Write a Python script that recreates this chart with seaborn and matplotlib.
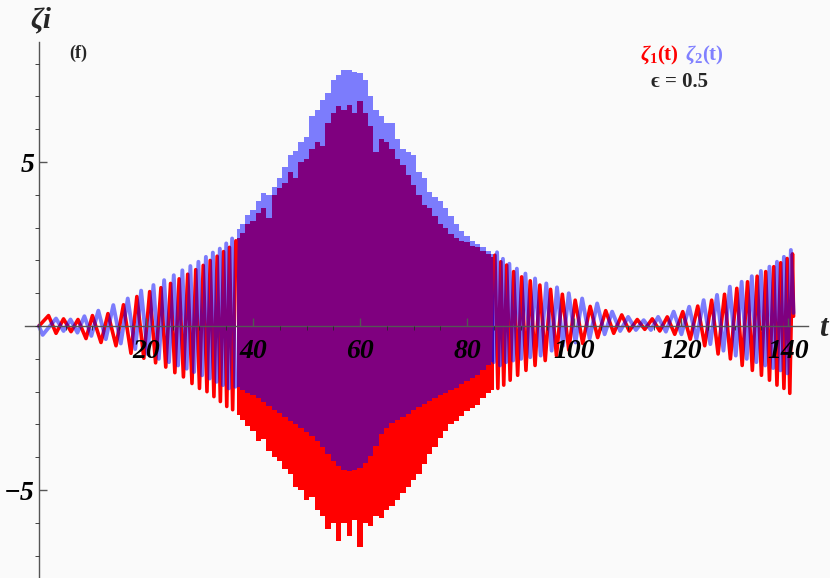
import numpy as np
import matplotlib
matplotlib.use('Agg')
import matplotlib.pyplot as plt
import seaborn as sns

# zeta_1 (red), sparse part on the left: alternating extrema
red_left_t = [0.0, 1.8, 3.2, 4.6, 6.0, 7.3, 8.8, 10.0, 11.6, 12.9,
              14.4, 15.8, 17.2, 18.3, 19.6, 20.7, 21.8, 22.8, 23.7, 24.6,
              25.4, 26.2, 27.0, 27.8, 28.6, 29.3, 30.0, 30.7, 31.4, 32.0,
              32.7, 33.3, 33.9, 34.5, 35.1, 35.6, 36.2, 36.8]
red_left_v = [0.0, 0.32, -0.22, 0.22, -0.17, 0.2, -0.38, 0.32, -0.5, 0.38,
              -0.6, 0.65, -0.83, 0.9, -0.98, 1.05, -1.12, 1.17, -1.25, 1.3,
              -1.42, 1.44, -1.55, 1.58, -1.75, 1.72, -1.9, 1.85, -2.0, 2.0,
              -2.15, 2.13, -2.3, 2.27, -2.45, 2.4, -2.55, 2.6]

# zeta_2 (blue), sparse part on the left
blue_left_t = [0.0, 0.7, 3.2, 4.6, 5.9, 7.2, 8.5, 9.8, 11.1, 12.5,
               13.9, 15.3, 16.6, 18.0, 19.1, 20.3, 21.4, 22.4, 23.4, 24.3,
               25.2, 26.0, 26.8, 27.6, 28.3, 29.0, 29.8, 30.5, 31.2, 31.9,
               32.5, 33.2, 33.8, 34.4, 35.0, 35.5, 36.1, 36.7]
blue_left_v = [0.0, -0.27, 0.23, -0.15, 0.2, -0.2, 0.3, -0.3, 0.47, -0.4,
               0.64, -0.53, 0.84, -0.7, 1.08, -0.85, 1.25, -1.0, 1.4, -1.1,
               1.55, -1.2, 1.7, -1.3, 1.83, -1.4, 1.96, -1.5, 2.11, -1.6,
               2.24, -1.7, 2.36, -1.8, 2.52, -1.9, 2.67, -1.85]

# dense middle part: upper / lower envelopes, one value per time unit (t = 37 ... 85)
dense_t = np.arange(37, 86)
red_hi = [2.7, 2.85, 3.1, 3.2, 3.45, 3.6, 3.3, 4.0, 4.2, 4.35,
          4.7, 4.5, 5.0, 5.1, 5.4, 5.6, 5.5, 6.2, 6.5, 6.7,
          6.6, 6.75, 6.5, 6.85, 6.5, 6.1, 5.3, 5.7, 5.6, 5.4,
          5.1, 4.9, 4.6, 4.3, 4.0, 3.7, 3.6, 3.35, 3.1, 3.0,
          2.8, 2.7, 2.6, 2.55, 2.45, 2.4, 2.3, 2.2, 2.1]
red_lo = [-2.7, -2.85, -3.05, -3.2, -3.5, -3.45, -3.8, -4.0, -4.1, -4.35,
          -4.5, -4.9, -5.0, -5.3, -5.2, -5.6, -5.8, -6.2, -6.0, -6.55,
          -6.0, -6.4, -5.9, -6.75, -6.0, -6.1, -5.8, -5.85, -5.6, -5.5,
          -5.3, -5.1, -4.9, -4.7, -4.5, -4.2, -3.9, -3.7, -3.4, -3.2,
          -3.0, -2.9, -2.75, -2.6, -2.5, -2.4, -2.2, -2.05, -1.95]
blue_hi = [2.95, 3.1, 3.4, 3.55, 3.8, 4.05, 4.0, 4.25, 4.5, 4.85,
           5.2, 5.35, 5.6, 5.75, 6.4, 6.6, 6.9, 7.1, 7.5, 7.65,
           7.8, 7.8, 7.75, 7.7, 7.5, 7.0, 6.6, 6.4, 6.2, 6.2,
           5.7, 5.4, 5.3, 5.2, 4.7, 4.5, 4.1, 3.95, 3.8, 3.6,
           3.35, 3.1, 2.9, 2.75, 2.6, 2.5, 2.4, 2.3, 2.2]
blue_lo = [-1.85, -1.95, -2.05, -2.1, -2.2, -2.3, -2.45, -2.55, -2.65, -2.78,
           -2.88, -3.0, -3.1, -3.22, -3.35, -3.5, -3.7, -3.9, -4.1, -4.27,
           -4.38, -4.42, -4.4, -4.33, -4.18, -3.95, -3.65, -3.3, -3.1, -2.95,
           -2.85, -2.77, -2.67, -2.57, -2.47, -2.38, -2.28, -2.18, -2.1, -2.03,
           -1.96, -1.88, -1.78, -1.68, -1.58, -1.48, -1.35, -1.2, -1.1]

# sparse part on the right
red_right_t = [85.2, 85.75, 86.3, 86.85, 87.4, 88.05, 88.7, 89.45, 90.2, 91.0,
               91.8, 92.7, 93.6, 94.6, 95.6, 96.7, 97.8, 99.0, 100.2, 101.6,
               103.0, 104.4, 105.9, 107.4, 108.9, 110.3, 111.8, 113.2, 114.6, 116.0,
               117.4, 118.8, 120.3, 121.7, 123.1, 124.4, 125.7, 126.9, 128.1, 129.2,
               130.4, 131.4, 132.4, 133.3, 134.2, 135.0, 135.8, 136.5, 137.3, 137.9,
               138.6, 139.2, 139.8, 140.3, 140.8, 141.0]
red_right_v = [2.16, -1.9, 1.96, -1.8, 1.86, -1.65, 1.66, -1.5, 1.5, -1.35,
               1.38, -1.2, 1.25, -1.05, 1.12, -0.9, 0.97, -0.73, 0.79, -0.53,
               0.6, -0.35, 0.47, -0.22, 0.34, -0.15, 0.2, -0.1, 0.22, -0.15,
               0.28, -0.25, 0.44, -0.4, 0.61, -0.6, 0.79, -0.85, 0.97, -1.0,
               1.15, -1.2, 1.35, -1.35, 1.52, -1.5, 1.66, -1.65, 1.81, -1.8,
               1.93, -1.9, 2.06, -2.05, 2.2, 0.3]
blue_right_t = [85.0, 85.6, 86.15, 86.7, 87.3, 87.9, 88.6, 89.3, 90.1, 90.9,
                91.8, 92.7, 93.75, 94.8, 95.8, 96.8, 97.9, 99.0, 100.25, 101.5,
                102.9, 104.3, 105.7, 107.1, 108.6, 110.1, 111.55, 113.0, 114.35, 115.7,
                117.15, 118.6, 120.05, 121.5, 122.85, 124.2, 125.45, 126.7, 127.9, 129.1,
                130.2, 131.3, 132.25, 133.2, 134.05, 134.9, 135.7, 136.5, 137.2, 137.9,
                138.55, 139.2, 139.85, 140.5, 141.0]
blue_right_v = [-1.1, 2.25, -1.2, 2.05, -1.1, 1.9, -1.05, 1.75, -1.0, 1.6,
                -0.95, 1.45, -0.9, 1.3, -0.75, 1.18, -0.6, 1.0, -0.5, 0.84,
                -0.38, 0.69, -0.25, 0.44, -0.15, 0.28, -0.12, 0.18, -0.12, 0.28,
                -0.17, 0.44, -0.25, 0.59, -0.4, 0.79, -0.55, 0.95, -0.75, 1.2,
                -0.9, 1.35, -1.0, 1.52, -1.1, 1.68, -1.2, 1.81, -1.28, 1.96,
                -1.35, 2.11, -1.44, 2.32, 0.4]

x_major = [20, 40, 60, 80, 100, 120, 140]
y_major = [-5, 5]

RED = '#ff0000'
BLUE = '#0000ff'
BG = '#fafafa'

sns.set_style('ticks')
plt.rcParams['font.family'] = ['Liberation Serif', 'DejaVu Serif']
plt.rcParams['mathtext.fontset'] = 'custom'
plt.rcParams['mathtext.rm'] = 'Liberation Serif:bold'
plt.rcParams['mathtext.it'] = 'Liberation Serif:italic:bold'
plt.rcParams['mathtext.bf'] = 'Liberation Serif:bold'

fig = plt.figure(figsize=(8.3, 5.78), dpi=100, facecolor=BG)
ax = fig.add_axes([25 / 830, 0, 783 / 830, 536 / 578])
ax.set_facecolor(BG)

# red first, blue half transparent on top -> purple overlap
ax.fill_between(dense_t, red_lo, red_hi, color=RED, lw=0, step='mid', zorder=1)
sns.lineplot(x=red_left_t, y=red_left_v, color=RED, lw=2.6, estimator=None, ax=ax)
sns.lineplot(x=red_right_t, y=red_right_v, color=RED, lw=2.6, estimator=None, ax=ax)
ax.fill_between(dense_t, blue_lo, blue_hi, color=BLUE, alpha=0.5, lw=0, step='mid', zorder=1.1)
sns.lineplot(x=blue_left_t, y=blue_left_v, color=BLUE, alpha=0.5, lw=2.8, estimator=None, ax=ax)
sns.lineplot(x=blue_right_t, y=blue_right_v, color=BLUE, alpha=0.5, lw=2.8, estimator=None, ax=ax)

ax.set_xlim(-2.6, 143.7)
ax.set_ylim(-7.68, 8.66)

# axes through the origin, Mathematica style, drawn over the curves
for side in ['top', 'right']:
    ax.spines[side].set_visible(False)
ax.spines['left'].set_position(('data', 0))
ax.spines['bottom'].set_position(('data', 0))
for side in ['left', 'bottom']:
    ax.spines[side].set_color('#555555')
    ax.spines[side].set_linewidth(1.0)
    ax.spines[side].set_zorder(5)
ax.xaxis.set_zorder(6)
ax.yaxis.set_zorder(6)

ax.set_xticks(x_major)
ax.set_xticks(np.arange(5, 145, 5), minor=True)
ax.set_yticks(y_major)
ax.set_yticks(np.arange(-7, 9, 1), minor=True)
ax.tick_params(direction='in', color='#555555', width=1, labelcolor='black')
ax.tick_params(which='major', length=5.5)
ax.tick_params(which='minor', length=3)
ax.tick_params(axis='x', which='major', pad=9)
ax.tick_params(axis='y', which='major', pad=3)
for lab in ax.get_xticklabels() + ax.get_yticklabels():
    lab.set_fontsize(20)
    lab.set_fontweight('bold')
    lab.set_fontstyle('italic')
ax.set_xlabel('')
ax.set_ylabel('')

fig.text(41 / 830, 1 - 20 / 578, 'ζi', fontsize=21, fontweight='bold',
         fontstyle='italic', ha='center', va='center')
fig.text(823 / 830, 1 - 328 / 578, 't', fontsize=22, fontweight='bold',
         fontstyle='italic', ha='center', va='center')
fig.text(78 / 830, 1 - 53 / 578, '(f)', fontsize=13, fontweight='bold',
         ha='center', va='center')
fig.text(679 / 830, 1 - 55 / 578, r'$\zeta_1$(t)', color=RED, fontsize=15,
         fontweight='bold', ha='right', va='center')
fig.text(685 / 830, 1 - 55 / 578, r'$\zeta_2$(t)', color='#8080ff', fontsize=15,
         fontweight='bold', ha='left', va='center')
fig.text(679 / 830, 1 - 82 / 578, 'ϵ = 0.5', fontsize=15,
         fontweight='bold', ha='center', va='center')

fig.savefig('out.png', dpi=100, facecolor=BG)
